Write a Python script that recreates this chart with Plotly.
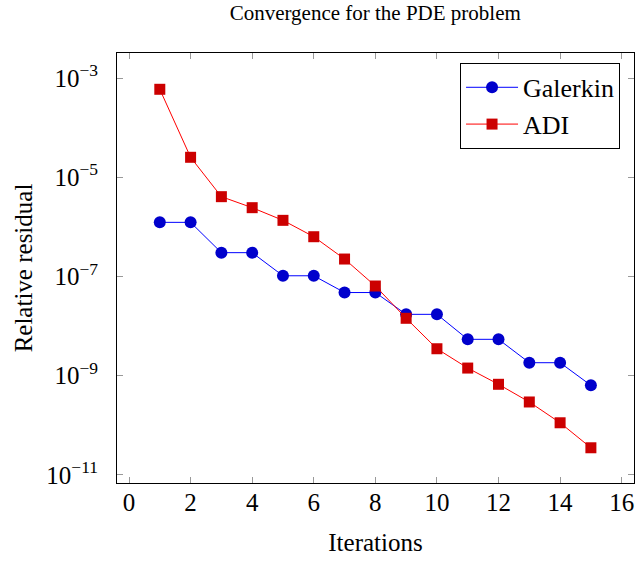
import plotly.graph_objects as go

iterations = list(range(1, 16))
galerkin = [1.23e-6, 1.23e-6, 3.01e-7, 3.01e-7, 1.03e-7, 1.03e-7, 4.73e-8, 4.73e-8,
            1.72e-8, 1.72e-8, 5.39e-9, 5.39e-9, 1.82e-9, 1.82e-9, 6.37e-10]
adi = [5.92e-4, 2.52e-5, 4.05e-6, 2.43e-6, 1.35e-6, 6.31e-7, 2.24e-7, 6.40e-8,
       1.43e-8, 3.48e-9, 1.42e-9, 6.68e-10, 2.94e-10, 1.12e-10, 3.51e-11]
x_ticks = [0, 2, 4, 6, 8, 10, 12, 14, 16]
y_tick_vals = [1e-3, 1e-5, 1e-7, 1e-9, 1e-11]
y_tick_text = ["10<sup>\u22123</sup>", "10<sup>\u22125</sup>", "10<sup>\u22127</sup>",
               "10<sup>\u22129</sup>", "10<sup>\u221211</sup>"]

FONT = "Liberation Serif"
FS = 25

fig = go.Figure()
fig.add_trace(go.Scatter(
    x=iterations, y=galerkin, name="Galerkin", mode="lines+markers",
    line=dict(color="#0000ff", width=1),
    marker=dict(symbol="circle", size=12, color="#0000cc", line=dict(width=0)),
))
fig.add_trace(go.Scatter(
    x=iterations, y=adi, name="ADI", mode="lines+markers",
    line=dict(color="#ff0000", width=1),
    marker=dict(symbol="square", size=11, color="#cc0000", line=dict(width=0)),
))

axis_common = dict(
    showgrid=False, zeroline=False, showline=True, linecolor="black", linewidth=1,
    mirror="ticks", ticks="inside", ticklen=6, tickcolor="#999999", tickwidth=1,
    tickfont=dict(family=FONT, size=FS, color="black"), automargin=False,
)

fig.update_layout(
    width=636, height=561,
    margin=dict(l=117, r=2, t=53, b=78),
    paper_bgcolor="white", plot_bgcolor="white",
    font=dict(family=FONT, color="black"),
    title=dict(text="Convergence for the PDE problem", x=0.59, xanchor="center",
               y=0.99, yanchor="top", font=dict(family=FONT, size=21, color="black")),
    xaxis=dict(range=[-0.39, 16.4], tickvals=x_ticks, ticklabelstandoff=-3,
               title=dict(text="Iterations", font=dict(family=FONT, size=FS), standoff=18),
               **axis_common),
    yaxis=dict(type="log", range=[-11.165, -2.496], tickvals=y_tick_vals, ticktext=y_tick_text,
               ticklabelstandoff=13,
               title=dict(text="Relative residual", font=dict(family=FONT, size=FS), standoff=6),
               **axis_common),
    legend=dict(x=0.973, y=0.977, xanchor="right", yanchor="top",
                bordercolor="black", borderwidth=1, bgcolor="white",
                font=dict(family=FONT, size=26, color="black"),
                tracegroupgap=0, itemwidth=52),
    showlegend=True,
)

fig.write_html("out.html", post_script="document.body.style.margin='0';",
               config={"displayModeBar": False})
